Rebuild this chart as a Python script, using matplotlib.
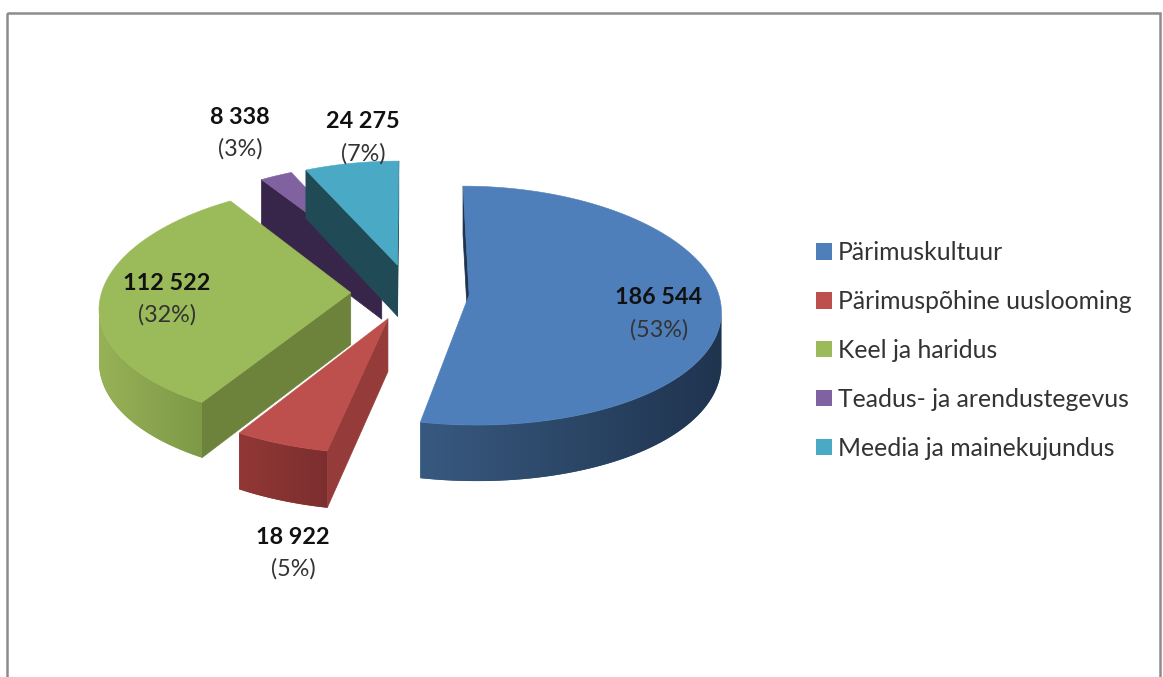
import numpy as np
import matplotlib
matplotlib.use("Agg")
import matplotlib.pyplot as plt
from matplotlib.patches import Polygon, Patch, Rectangle
from matplotlib.colors import to_rgb

plt.rcParams['font.family'] = ['Lato', 'DejaVu Sans']

categories = ['Pärimuskultuur', 'Pärimuspõhine uuslooming', 'Keel ja haridus',
              'Teadus- ja arendustegevus', 'Meedia ja mainekujundus']
values = [186544, 18922, 112522, 8338, 24275]
value_labels = ['186 544', '18 922', '112 522', '8 338', '24 275']
pct_labels = ['(53%)', '(5%)', '(32%)', '(3%)', '(7%)']

top_colors = ['#4f7fbb', '#bd4f4c', '#9bba59', '#8062a0', '#4aa9c4']
wall_light = ['#38597f', '#913836', '#96b156', '#37264a', '#1f4a56']
wall_dark = ['#1f344f', '#7c2e2e', '#7f9a47', '#37264a', '#1f4a56']
side_colors = ['#1f344f', '#953b39', '#6d833c', '#37264a', '#1f4a56']

# where the labels go, pixels
label_pos = [(659, 298), (293, 537), (167, 283), (240, 117), (363, 122)]

CX, CY = 410, 292
RX, RY = 249, 118
EXPLODE = 0.238
DEPTH = 52


def project(wx, wy):
    # ground plane to screen, far things get smaller
    sx = CX + RX * wx / (1 + 0.115 * wy)
    sy = CY - RY * wy / (1 + 0.09 * wy)
    d = DEPTH / (1 + 0.07 * wy)
    return sx, sy, d


fig = plt.figure(figsize=(11.63, 6.77), dpi=100)
ax = fig.add_axes([0, 0, 1, 1])

# frame, bottom is cut off
ax.add_patch(Rectangle((7, 12.5), 1153, 700, fill=False, ec='#8c8c8c', lw=1.8))

fractions = np.array(values) / sum(values)
edges = np.concatenate([[0], np.cumsum(fractions)]) * 2 * np.pi

# back slices first
for i in [3, 4, 0, 2, 1]:
    t = np.linspace(edges[i], edges[i + 1], 120)
    mid = (edges[i] + edges[i + 1]) / 2
    ox = EXPLODE * np.sin(mid)
    oy = EXPLODE * np.cos(mid)
    px, py, pd = project(ox + np.sin(t), oy + np.cos(t))
    ax_x, ax_y, ax_d = project(ox, oy)
    apex = np.array([ax_x, ax_y])
    m = np.array([px[60], py[60]])

    # radial walls, only the ones facing us
    for j in [0, -1]:
        p = np.array([px[j], py[j]])
        e = p - apex
        cross_m = e[0] * (m - apex)[1] - e[1] * (m - apex)[0]
        if cross_m * e[0] < 0:
            ax.add_patch(Polygon([apex, p, p + [0, pd[j]], apex + [0, ax_d]],
                                 fc=side_colors[i], ec=side_colors[i], lw=0.5))

    # outer wall with gradient along the arc, front part runs right to left
    front = np.where(np.gradient(px) < 0)[0]
    if len(front) > 1:
        fx, fy, fd = px[front], py[front], pd[front]
        wall = Polygon(np.column_stack([np.r_[fx, fx[::-1]], np.r_[fy, (fy + fd)[::-1]]]),
                       fc=wall_light[i], ec='none')
        ax.add_patch(wall)
        c1, c2 = np.array(to_rgb(wall_light[i])), np.array(to_rgb(wall_dark[i]))
        grad = np.linspace(0, 1, 64)[None, :, None] * (c2 - c1) + c1
        img = ax.imshow(grad, extent=(fx.min(), fx.max(), (fy + fd).max(), fy.min()),
                        aspect='auto', interpolation='bilinear', zorder=1)
        img.set_clip_path(wall)

    # top
    ax.add_patch(Polygon(np.column_stack([np.r_[ax_x, px], np.r_[ax_y, py]]),
                         fc=top_colors[i], ec=top_colors[i], lw=0.4, zorder=1))

for (lx, ly), v, p in zip(label_pos, value_labels, pct_labels):
    ax.text(lx, ly, v, ha='center', va='center', fontsize=16.8, fontweight='bold', color='#111111')
    ax.text(lx, ly + 32, p, ha='center', va='center', fontsize=16.8, color='#333333')

ax.set_xlim(0, 1163)
ax.set_ylim(677, 0)
ax.axis('off')

handles = [Patch(fc=c, ec='none') for c in top_colors]
leg = ax.legend(handles, categories, loc='upper left', bbox_to_anchor=(816 / 1163, 1 - 241 / 677),
                frameon=False, fontsize=17.8, handlelength=0.65, handleheight=0.65,
                handletextpad=0.24, labelspacing=1.05, borderpad=0, borderaxespad=0,
                labelcolor='#333333')

fig.savefig('out.png', dpi=100, facecolor='white')
